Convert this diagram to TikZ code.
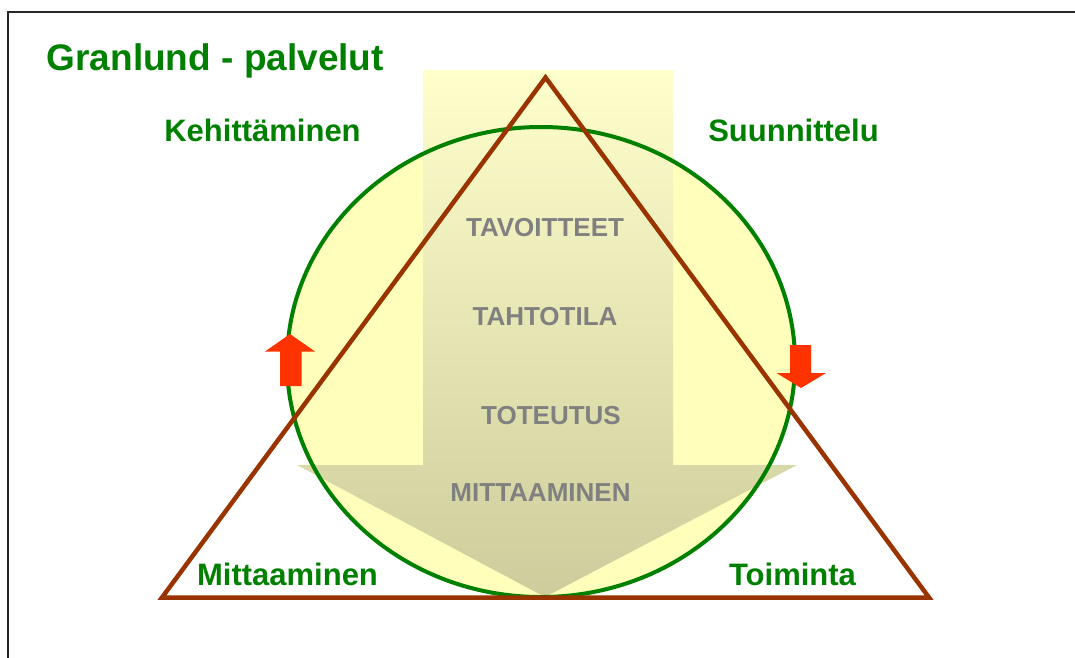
\documentclass[tikz,border=0pt]{standalone}
\usepackage{fontspec}
\setmainfont{Liberation Sans}
\definecolor{gtext}{HTML}{008000}
\definecolor{grtext}{HTML}{808080}
\definecolor{tri}{HTML}{993300}
\definecolor{circfill}{HTML}{FFFFBB}
\definecolor{shtop}{HTML}{FFFFCC}
\definecolor{shbot}{HTML}{CCCC9C}
\definecolor{redarr}{HTML}{FF3300}
\tikzset{
  greenlabel/.style={text=gtext, font=\bfseries\fontsize{31}{34}\selectfont, anchor=base, inner sep=0pt},
  graylabel/.style={text=grtext, font=\bfseries\fontsize{26}{28}\selectfont, anchor=base, inner sep=0pt},
  titlelabel/.style={text=gtext, font=\bfseries\fontsize{37}{40}\selectfont, anchor=base west, inner sep=0pt},
}
\begin{document}
\begin{tikzpicture}[x=1pt,y=-1pt]
\useasboundingbox (0,0) rectangle (1075,657);
% frame
\draw[line width=2pt, black!85] (7.5,670) -- (7.5,12) -- (1090,12);
% ellipse fill
\fill[circfill] (541,362) ellipse [x radius=254, y radius=235];
% big arrow
\shade[top color=shtop, bottom color=shbot]
  (423,70) -- (673,70) -- (673,465) -- (797,465) -- (545,597) -- (297,465) -- (423,465) -- cycle;
% ellipse outline
\draw[gtext, line width=4pt] (541,362) ellipse [x radius=254, y radius=235];
% triangle
\coordinate (apex) at (545.5,77.5);
\coordinate (bl) at (162,597.5);
\coordinate (br) at (929,597.5);
\draw[tri, line width=4.5pt, line join=miter] (apex) -- (br) -- (bl) -- cycle;
% red arrows
\fill[redarr] (290,334) -- (315,351.5) -- (301.5,351.5) -- (301.5,386) -- (280,386) -- (280,351.5) -- (265,351.5) -- cycle;
\fill[redarr] (801,388) -- (826,373) -- (811,373) -- (811,345) -- (790,345) -- (790,373) -- (776.5,373) -- cycle;
% texts
\node[titlelabel] (title) at (46.5,70.7) {Granlund - palvelut};
\node[greenlabel] (keh) at (262.5,141.7) {Kehittäminen};
\node[greenlabel] (suu) at (793.5,141.7) {Suunnittelu};
\node[greenlabel] (mit) at (287.5,585) {Mittaaminen};
\node[greenlabel] (toi) at (792.5,585) {Toiminta};
\node[graylabel] (tav) at (545,236.7) {TAVOITTEET};
\node[graylabel] (tah) at (545,325) {TAHTOTILA};
\node[graylabel] (tot) at (551,424.5) {TOTEUTUS};
\node[graylabel] (mtt) at (540.5,501.7) {MITTAAMINEN};
\end{tikzpicture}
\end{document}
